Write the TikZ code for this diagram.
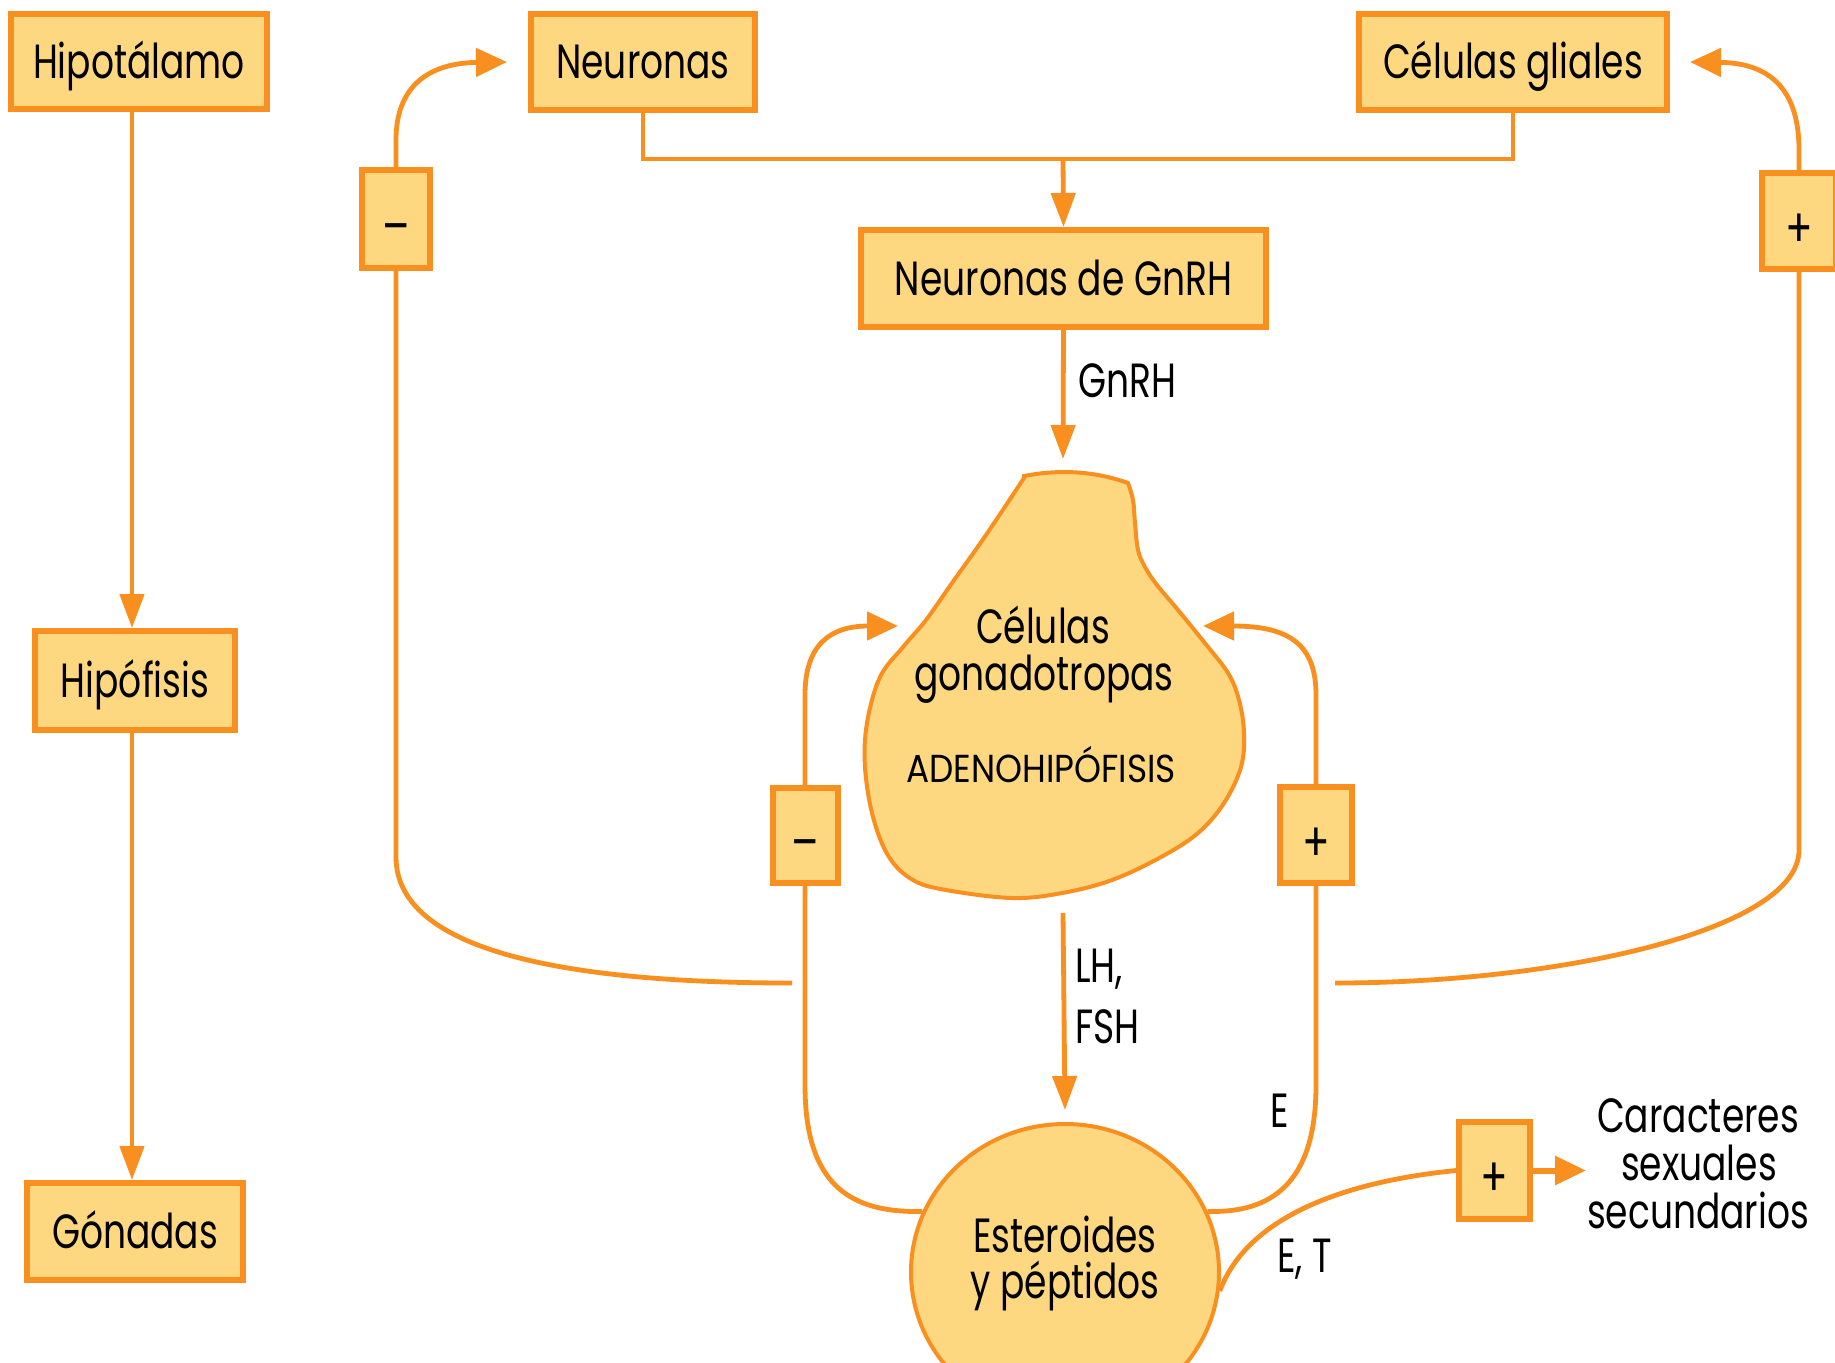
\documentclass[tikz,border=0pt]{standalone}
\usepackage{fontspec}
\newfontfamily\lab{Poppins}[FakeStretch=0.75]
\newfontfamily\labw{Poppins}[FakeStretch=0.88]
\usetikzlibrary{arrows.meta,shapes.geometric}
\definecolor{boxfill}{RGB}{253,216,128}
\definecolor{boxline}{RGB}{248,143,30}

\begin{document}
\begin{tikzpicture}[x={(0.5pt,0)}, y={(0,-0.5pt)},
  txt/.style={font=\lab\fontsize{24}{25}\selectfont, inner sep=0pt},
  small/.style={font=\labw\fontsize{19.5}{20}\selectfont, inner sep=0pt},
  box/.style={txt, draw=boxline, fill=boxfill, line width=3pt, text height=16.7pt, text depth=0pt},
  sign/.style={draw=boxline, fill=boxfill, line width=3pt, inner sep=0pt, text height=26pt, text depth=0pt, font=\lab\fontsize{27}{27}\selectfont},
  link/.style={draw=boxline, line width=2.4pt},
  arrv/.style={link, -{Triangle[length=17pt,width=12pt]}},
  arrc/.style={link, -{Triangle[length=15.5pt,width=14pt]}},
  lbl/.style={txt, anchor=base west},
  ctr/.style={txt, anchor=base},
]
\useasboundingbox (0,0) rectangle (1835,1362);

% boxes
\node[box, minimum width=128pt, minimum height=47.5pt] (hipot) at (139,61.5) {Hipotálamo};
\node[box, minimum width=112pt, minimum height=48pt] (neur) at (643,62) {Neuronas};
\node[box, minimum width=154pt, minimum height=48pt] (gli) at (1513,62) {Células gliales};
\node[box, minimum width=202.5pt, minimum height=48.5pt] (gnrh) at (1063.5,278.5) {Neuronas de GnRH};
\node[box, minimum width=100pt, minimum height=49.5pt] (hipof) at (135,680.5) {Hipófisis};
\node[box, minimum width=108pt, minimum height=48.5pt] (gon) at (135,1231.5) {Gónadas};

% feedback signs
\node[sign, minimum width=34pt, minimum height=49pt] (minus1) at (396,219) {\textendash};
\node[sign, minimum width=37pt, minimum height=48pt] (plus1) at (1799,221) {+};
\node[sign, minimum width=32.5pt, minimum height=47.5pt] (minus2) at (805,835.5) {\textendash};
\node[sign, minimum width=36pt, minimum height=48pt] (plus2) at (1316,835) {+};
\node[sign, minimum width=35.5pt, minimum height=48.5pt] (plus3) at (1494.5,1170.5) {+};

% adenohypophysis outline
\filldraw[draw=boxline, fill=boxfill, line width=2pt]
  (1024,476) .. controls (1065,468) and (1100,473) .. (1128,483)
  -- plot[smooth, tension=0.6] coordinates {(1128,483) (1133,500) (1135,523) (1138,550) (1145,567) (1157,585) (1178,610) (1204,642) (1228,673) (1239,700) (1244,733) (1241,767) (1224,803) (1198,833) (1161,857) (1112,880) (1062,893) (1012,898) (946,890) (913,880) (889,857) (873,817) (865,767) (867,723) (880,677) (903,647) (926,620) (952,583) (986,535) (1024,478)}
  -- cycle;
\node[ctr] (cel1) at (1043,643) {Células};
\node[ctr] (cel2) at (1044,690) {gonadotropas};
\node[small, anchor=base] (adeno) at (1041,782) {ADENOHIPÓFISIS};

% gonadal output
\node[ellipse, draw=boxline, fill=boxfill, line width=2pt, minimum width=154pt, minimum height=148pt, inner sep=0pt] (est) at (1065,1272) {};
\node[ctr] (est1) at (1065,1252) {Esteroides};
\node[ctr] (est2) at (1065,1298) {y péptidos};

% free ends
\coordinate (colx) at (132,0);
\coordinate (jn) at (1063,159);
\coordinate (adtop) at (1063,459);
\coordinate (adbot) at (1063,913);
\coordinate (adl) at (898,626);
\coordinate (adr) at (1203,626);
\coordinate (llend) at (792,983);
\coordinate (rlend) at (1335,983);
\coordinate (car) at (1586,1170.5);

% left column
\draw[arrv] (hipot.south -| colx) -- (hipof.north -| colx);
\draw[arrv] (hipof.south -| colx) -- (gon.north -| colx);

% hypothalamic inputs
\draw[link] (neur.south) |- (jn) -| (gli.south);
\draw[arrv] (jn) -- (gnrh.north);
\draw[arrv] (gnrh.south) -- (adtop);
\node[lbl] (lgnrh) at (1078,397) {GnRH};

% pituitary output
\draw[arrv] (adbot) -- ([yshift=6pt]est.north);
\node[lbl] (llh) at (1075,982) {LH,};
\node[lbl] (lfsh) at (1075,1043) {FSH};

% long feedback loops
\draw[arrc] (minus1.north) -- (396,140) .. controls (396,85) and (430,63) .. ([xshift=-10.5pt]neur.west);
\draw[link] (minus1.south) -- (396,857) .. controls (396,960) and (600,983) .. (llend);
\draw[arrc] (plus1.north) -- (1799,150) .. controls (1799,95) and (1775,63) .. ([xshift=10pt]gli.east);
\draw[link] (plus1.south) -- (1799,850) .. controls (1799,930) and (1560,983) .. (rlend);

% short feedback loops
\draw[arrc] (minus2.north) -- (805,695) .. controls (805,645) and (830,626) .. (adl);
\draw[link] (minus2.south) -- (805,1085) .. controls (805,1185) and (850,1213) .. (est.157);
\draw[arrc] (plus2.north) -- (1316,695) .. controls (1316,645) and (1290,626) .. (adr);
\draw[link] (plus2.south) -- (1316,1085) .. controls (1316,1185) and (1270,1213) .. (est.23);
\node[lbl] (le) at (1270,1127) {E};

% peripheral action
\draw[link] (est.-7) .. controls (1250,1210) and (1360,1180) .. (plus3.west);
\draw[arrc, line width=3pt] (plus3.east) -- (car);
\node[lbl] (let) at (1277,1272) {E, T};
\node[ctr] (c1) at (1698,1132) {Caracteres};
\node[ctr] (c2) at (1699,1180) {sexuales};
\node[ctr] (c3) at (1698,1228) {secundarios};
\end{tikzpicture}
\end{document}
